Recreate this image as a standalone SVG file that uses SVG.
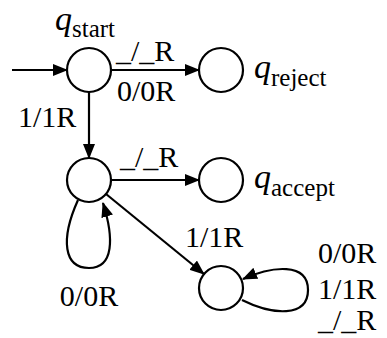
<svg xmlns="http://www.w3.org/2000/svg" width="387" height="338" viewBox="0 0 387 338">
<style>
.st{fill:#fff;stroke:#000;stroke-width:2.2}
.ed{fill:none;stroke:#000;stroke-width:2.2;marker-end:url(#ah)}
text{font-family:"Liberation Serif",serif}
.lb{font-size:30px;fill:#000}
.q{font-style:italic;font-size:34px}
.sub{font-size:25px}
</style>
<defs>
<marker id="ah" markerUnits="userSpaceOnUse" markerWidth="15" markerHeight="12" refX="14" refY="6" orient="auto">
<path d="M0,0 L15,6 L0,12 z" fill="#000"/>
</marker>
</defs>
<g id="connectors">
<line class="ed" x1="12" y1="70" x2="67" y2="70"/>
<line class="ed" x1="111" y1="70" x2="199" y2="70"/>
<line class="ed" x1="89" y1="92" x2="89" y2="158"/>
<line class="ed" x1="111" y1="180" x2="199" y2="180"/>
<line class="ed" x1="106" y1="194" x2="204" y2="274"/>
<path class="ed" d="M78,200 C60,240 64,268 89,268 C114,268 114,238 103,203"/>
<path class="ed" d="M242,300 C272,315 308,318 308,290 C308,262 272,266 243,279"/>
<text class="lb" x="116" y="61">_/_R</text>
<text class="lb" x="117" y="101">0/0R</text>
<text class="lb" x="18" y="127">1/1R</text>
<text class="lb" x="120" y="167">_/_R</text>
<text class="lb" x="185" y="247">1/1R</text>
<text class="lb" x="89" y="306" text-anchor="middle">0/0R</text>
<text class="lb" x="318" y="263">0/0R</text>
<text class="lb" x="318" y="299">1/1R</text>
<text class="lb" x="318" y="330">_/_R</text>
</g>
<g id="q_start">
<circle class="st" cx="89" cy="70" r="22"/>
<text x="55" y="30"><tspan class="q">q</tspan><tspan class="sub" dy="7">start</tspan></text>
</g>
<g id="q_reject">
<circle class="st" cx="221" cy="70" r="22"/>
<text x="254" y="78"><tspan class="q">q</tspan><tspan class="sub" dy="8">reject</tspan></text>
</g>
<g id="q_mid">
<circle class="st" cx="89" cy="180" r="22"/>
</g>
<g id="q_accept">
<circle class="st" cx="221" cy="180" r="22"/>
<text x="254" y="188"><tspan class="q">q</tspan><tspan class="sub" dy="8">accept</tspan></text>
</g>
<g id="q_loop">
<circle class="st" cx="221" cy="288" r="22"/>
</g>
</svg>
